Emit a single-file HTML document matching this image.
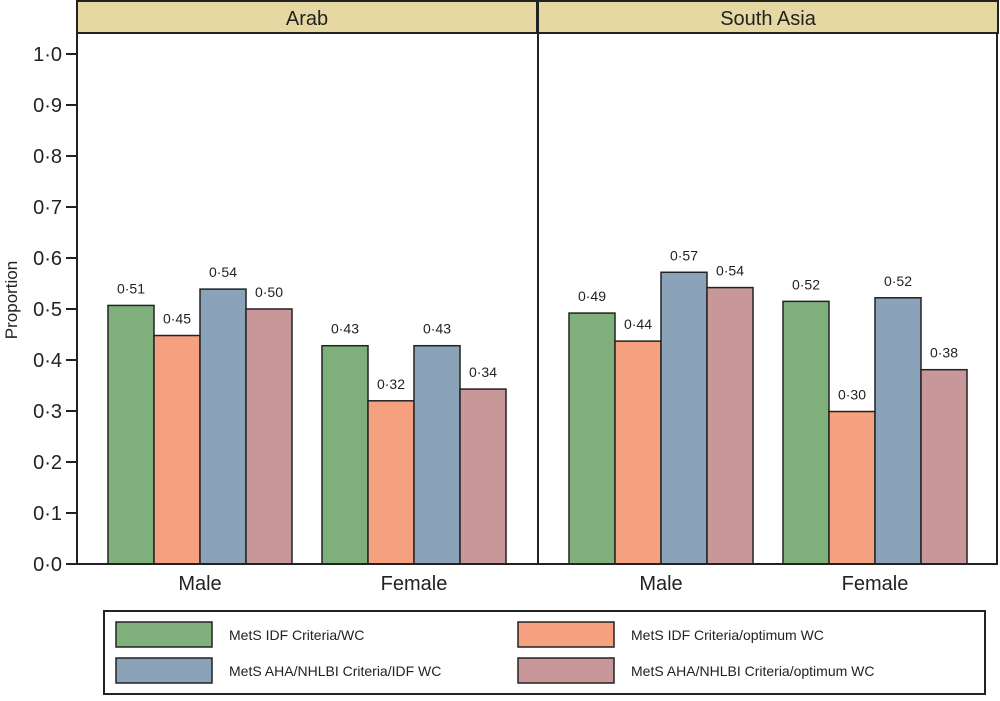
<!DOCTYPE html>
<html><head><meta charset="utf-8"><style>
body{margin:0;background:#fff;width:1000px;height:696px;overflow:hidden}
svg{font-family:"Liberation Sans",Arial,sans-serif}
</style></head><body>
<svg id="c" width="1000" height="696" xmlns="http://www.w3.org/2000/svg"></svg>
<script>
const panels = ["Arab", "South Asia"];
const groups = ["Male", "Female"];
const series = ["MetS IDF Criteria/WC", "MetS IDF Criteria/optimum WC", "MetS AHA/NHLBI Criteria/IDF WC", "MetS AHA/NHLBI Criteria/optimum WC"];
const colors = ["#7fb07c", "#f5a07f", "#8ba3b8", "#c8979a"];
const arabMale = [0.507, 0.448, 0.539, 0.500];
const arabFemale = [0.428, 0.320, 0.428, 0.343];
const saMale = [0.492, 0.437, 0.572, 0.542];
const saFemale = [0.515, 0.299, 0.522, 0.381];
const yTicks = [0, 0.1, 0.2, 0.3, 0.4, 0.5, 0.6, 0.7, 0.8, 0.9, 1.0];
const data = [[arabMale, arabFemale], [saMale, saFemale]];

const svg = document.getElementById('c');
const NS = "http://www.w3.org/2000/svg";
function mk(tag, attrs, parent) {
  const e = document.createElementNS(NS, tag);
  for (const k in attrs) e.setAttribute(k, attrs[k]);
  (parent || svg).appendChild(e);
  return e;
}
const y0 = 564, y1 = 54;
const yScale = v => y0 - v * (y0 - y1);
const panelX = [77, 538], panelW = 460;
const barW = 46;
const groupStart = [31, 245];
const fmt = v => v.toFixed(2).replace('.', '·');

panels.forEach((p, pi) => {
  const px = panelX[pi];
  const h = mk('rect', {x: px, y: 1, width: panelW, height: 32, fill: '#e5d8a2', stroke: '#222', 'stroke-width': 2});
  
  
  const t = mk('text', {x: px + panelW / 2, y: 25, 'text-anchor': 'middle', 'font-size': 20, fill: '#222'});
  t.textContent = p;
  
  
  groups.forEach((g, gi) => {
    const vals = data[pi][gi];
    const gx = px + groupStart[gi];
    vals.forEach((v, si) => {
      const x = gx + si * barW;
      const r = mk('rect', {x: x, y: yScale(v), width: barW, height: y0 - yScale(v), fill: colors[si], stroke: '#222', 'stroke-width': 1.5});
      
      
      const l = mk('text', {x: x + barW / 2, y: yScale(v) - 12, 'text-anchor': 'middle', 'font-size': 14, fill: '#222'});
      l.textContent = fmt(v);
      
      
    });
    const gl = mk('text', {x: gx + 2 * barW, y: 590, 'text-anchor': 'middle', 'font-size': 20, fill: '#222'});
    gl.textContent = g;
    
    
  });
});
mk('line', {x1: 77, y1: 33, x2: 77, y2: y0, stroke: '#222', 'stroke-width': 2});
mk('line', {x1: 538, y1: 33, x2: 538, y2: y0, stroke: '#222', 'stroke-width': 2});
mk('line', {x1: 997, y1: 33, x2: 997, y2: y0, stroke: '#222', 'stroke-width': 2});
mk('line', {x1: 66, y1: y0, x2: 998, y2: y0, stroke: '#222', 'stroke-width': 2});
yTicks.forEach(v => {
  mk('line', {x1: 66, y1: yScale(v), x2: 77, y2: yScale(v), stroke: '#222', 'stroke-width': 2});
  const t = mk('text', {x: 62, y: yScale(v) + 7, 'text-anchor': 'end', 'font-size': 20, fill: '#222'});
  t.textContent = v.toFixed(1).replace('.', '·');
  
  
});
const yt = mk('text', {x: 17, y: 300, 'text-anchor': 'middle', 'font-size': 17, fill: '#222', transform: 'rotate(-90 17 300)'});
yt.textContent = 'Proportion';


const lg = mk('rect', {x: 104, y: 611, width: 881, height: 83, fill: '#fff', stroke: '#222', 'stroke-width': 2});


const lx = [116, 518], ly = [622, 658];
series.forEach((s, i) => {
  const col = i % 2, row = Math.floor(i / 2);
  const r = mk('rect', {x: lx[col], y: ly[row], width: 96, height: 25, fill: colors[i], stroke: '#222', 'stroke-width': 1.5});
  
  
  const t = mk('text', {x: lx[col] + 113, y: ly[row] + 18, 'font-size': 14, fill: '#222'});
  t.textContent = s;
  
  
});
</script>
</body></html>
